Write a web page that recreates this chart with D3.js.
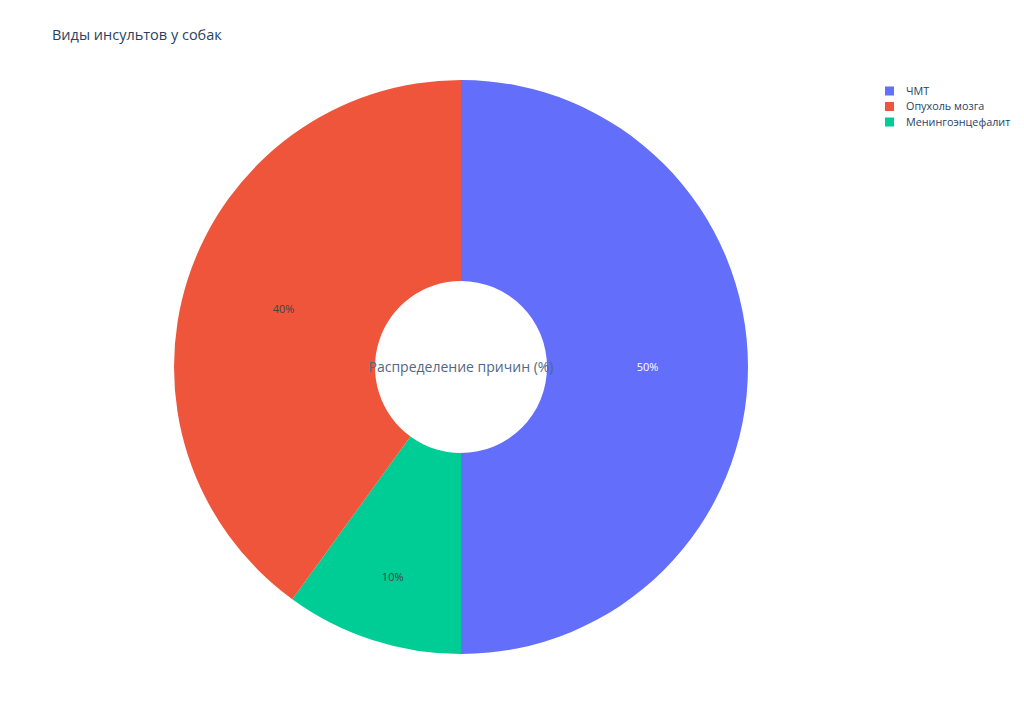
<!DOCTYPE html>
<html><head><meta charset="utf-8">
<script src="https://cdn.jsdelivr.net/npm/d3@7"></script>
<style>body{margin:0;background:#fff}svg{display:block;font-family:"Open Sans",verdana,arial,sans-serif}</style>
</head><body><svg id="c" width="1024" height="718"></svg>
<script>
const categories = ["ЧМТ", "Опухоль мозга", "Менингоэнцефалит"];
const values = [50, 40, 10];
const colors = ["#636efa", "#EF553B", "#00cc96"];
const labelColors = ["#ffffff", "#444444", "#444444"];
const drawOrder = [0, 2, 1]; // clockwise from top
const title = "Виды инсультов у собак";
const centerText = "Распределение причин (%)";

const svg = d3.select("#c");
const cx = 461, cy = 367, R = 287, r = 86;

svg.append("text").attr("x", 52).attr("y", 40).attr("font-size", 14.5).attr("fill", "#2a3f5f").text(title);

const total = d3.sum(values);
const pie = d3.pie().sort(null).value(i => values[i]);
const arcs = pie(drawOrder);
const arc = d3.arc().innerRadius(r).outerRadius(R);
const g = svg.append("g").attr("transform", `translate(${cx},${cy})`);
g.selectAll("path").data(arcs).join("path")
  .attr("d", arc).attr("fill", d => colors[d.data]);

g.selectAll("text.pct").data(arcs).join("text")
  .attr("class", "pct")
  .attr("transform", d => {
    const a = (d.startAngle + d.endAngle) / 2;
    const frac = values[d.data] / total;
    const rr = frac < 0.2 ? R * 0.77 : (r + R) / 2;
    return `translate(${Math.sin(a) * rr},${-Math.cos(a) * rr})`;
  })
  .attr("text-anchor", "middle").attr("dy", "0.35em")
  .attr("font-size", 11).attr("fill", d => labelColors[d.data])
  .text(d => Math.round(values[d.data] / total * 100) + "%");

svg.append("text").attr("x", cx).attr("y", cy).attr("dy", "0.35em").attr("text-anchor", "middle")
  .attr("font-size", 14).attr("fill", "#506784").text(centerText);

const leg = svg.append("g").attr("transform", "translate(885,91)");
const items = leg.selectAll("g").data(categories).join("g").attr("transform", (d, i) => `translate(0,${i * 15.5})`);
items.append("rect").attr("x", 0).attr("y", -4.5).attr("width", 9).attr("height", 9).attr("fill", (d, i) => colors[i]);
items.append("text").attr("x", 21).attr("dy", "0.35em").attr("font-size", 10.8).attr("fill", "#2a3f5f").text(d => d);
</script></body></html>
